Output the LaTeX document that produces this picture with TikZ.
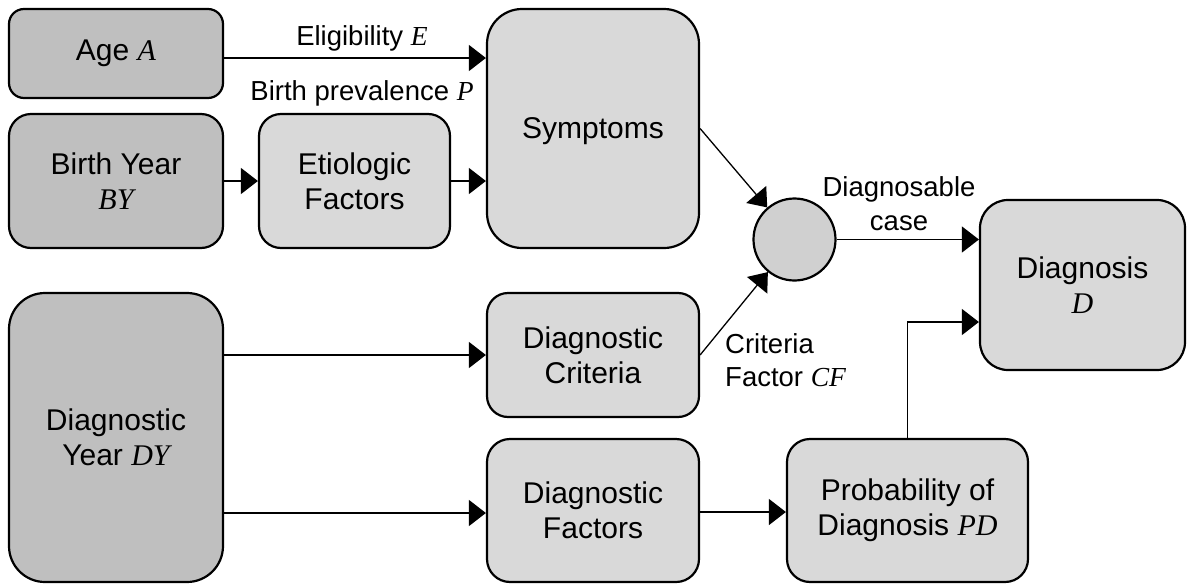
\documentclass[tikz,border=0pt]{standalone}
\usepackage{fontspec}
\setmainfont{Liberation Sans}
\newfontfamily\varfont{Liberation Serif}
\newcommand\mv[1]{{\varfont\itshape #1}}
\usetikzlibrary{arrows.meta}
\definecolor{darkfill}{HTML}{BFBFBF}
\definecolor{lightfill}{HTML}{D9D9D9}
\definecolor{circfill}{HTML}{D0D0D0}
\tikzset{
  box/.style={draw=black, line width=2.2pt, align=center, inner sep=0pt,
    font=\fontsize{30}{35}\selectfont},
  darkbox/.style={box, fill=darkfill},
  lightbox/.style={box, fill=lightfill},
  lbl/.style={align=center, inner sep=0pt, font=\fontsize{27.5}{33.5}\selectfont},
  arr/.style={line width=1.3pt, -{Triangle[length=17pt,width=26pt]}},
}
\begin{document}
\begin{tikzpicture}[x=1pt,y=-1pt]
\useasboundingbox (0,0) rectangle (1187,584);
% nodes
\node[darkbox, minimum width=214pt, minimum height=89pt, rounded corners=15pt] (age) at (116,53.5) {Age \mv{A}};
\node[darkbox, minimum width=214pt, minimum height=134pt, rounded corners=22pt] (by) at (116,181) {Birth Year\\\mv{BY}};
\node[lightbox, minimum width=191pt, minimum height=134pt, rounded corners=22pt] (eti) at (354.5,181) {Etiologic\\Factors};
\node[lightbox, minimum width=212pt, minimum height=239pt, rounded corners=35pt, text depth=0pt] (sym) at (593,128.5) {Symptoms};
\node[darkbox, minimum width=214pt, minimum height=289pt, rounded corners=36pt] (dy) at (116,437.5) {Diagnostic\\Year \mv{DY}};
\node[lightbox, minimum width=212pt, minimum height=124pt, rounded corners=21pt] (dc) at (593,355) {Diagnostic\\Criteria};
\node[lightbox, minimum width=212pt, minimum height=143pt, rounded corners=23pt] (df) at (593,510.5) {Diagnostic\\Factors};
\node[lightbox, minimum width=241pt, minimum height=143pt, rounded corners=23pt] (pd) at (907.5,510.5) {Probability of\\Diagnosis \mv{PD}};
\node[lightbox, minimum width=205pt, minimum height=170pt, rounded corners=28pt] (dia) at (1082.5,285) {Diagnosis\\\mv{D}};
\node[draw=black, line width=2.2pt, fill=circfill, circle, minimum size=82pt, inner sep=0pt] (c) at (794.5,239.5) {};
% labels
\node[lbl] (lE) at (362,38) {Eligibility \mv{E}};
\node[lbl] (lP) at (362,93) {Birth prevalence \mv{P}};
\node[lbl] (lD) at (899,203.5) {Diagnosable\\case};
\node[lbl, align=left, anchor=west] (lC) at (725,360) {Criteria\\Factor \mv{CF}};
% connectors
\draw[arr] (age.east |- 0,58) -- (sym.west |- 0,58);
\draw[arr] (by.east) -- (eti.west);
\draw[arr] (eti.east) -- (sym.west |- eti.east);
\draw[arr] (sym.east) -- (c);
\draw[arr] (dc.east) -- (c);
\draw[arr] (c.east) -- (dia.west |- c.east);
\draw[arr] (dy.east |- dc.west) -- (dc.west);
\draw[arr] (dy.east |- 0,513) -- (df.west |- 0,513);
\draw[arr] (df.east |- 0,512) -- (pd.west |- 0,512);
\draw[arr] (pd.north) |- (dia.west |- 0,322);
\end{tikzpicture}
\end{document}
